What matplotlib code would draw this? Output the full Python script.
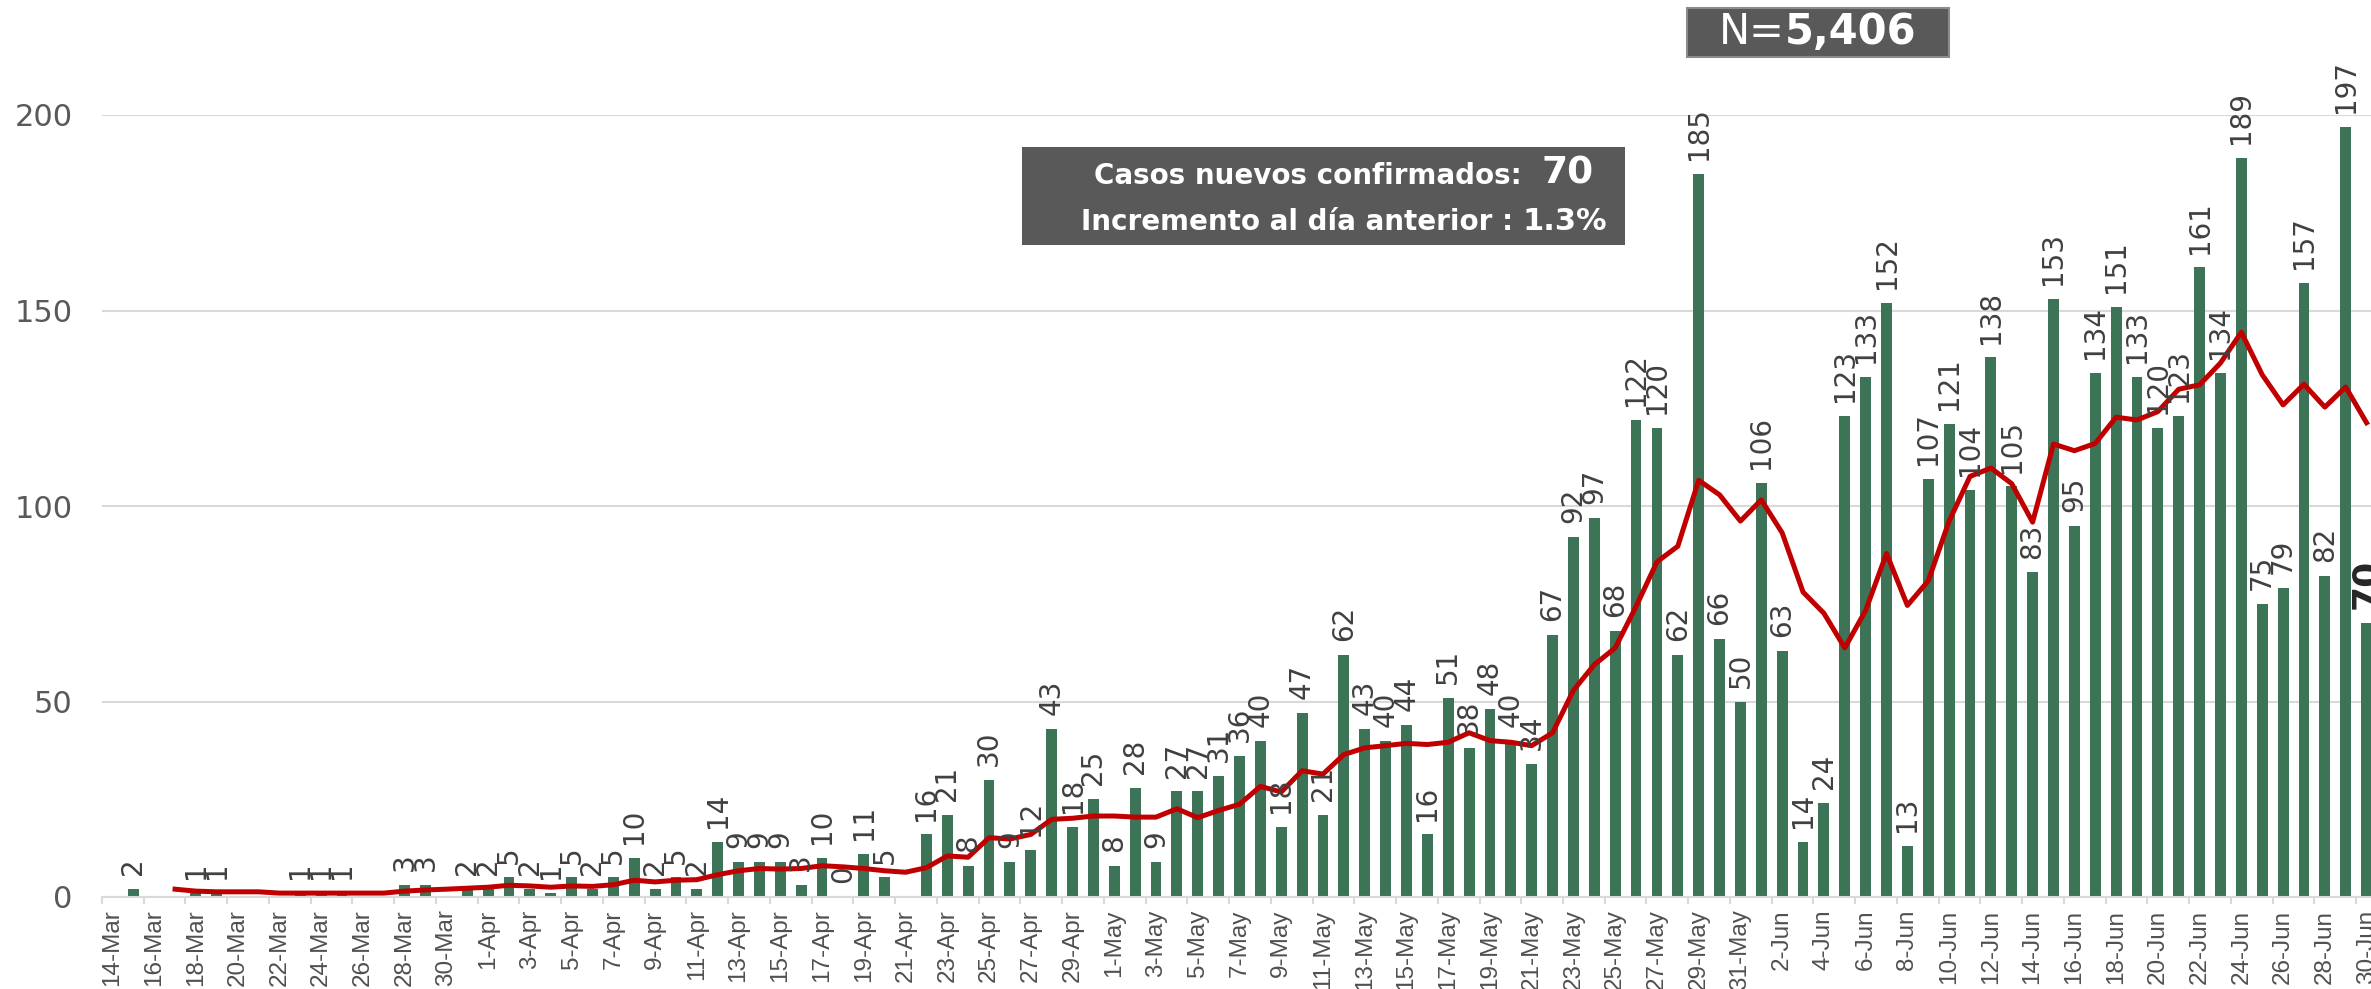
import numpy as np
import pandas as pd
import matplotlib
matplotlib.use("Agg")
import matplotlib.pyplot as plt
from matplotlib.patches import Rectangle
from matplotlib.offsetbox import TextArea, HPacker, VPacker, AnnotationBbox

# one category per day, 14-Mar .. 30-Jun
dates = pd.date_range("2020-03-14", "2020-06-30", freq="D")
day_labels = [f"{d.day}-{d.strftime('%b')}" for d in dates]

# new confirmed cases per day (None = no record that day)
cases = [None, 2, None, None, 1, 1, None, None, None, 1, 1, 1, None, None, 3, 3, None,
         2, 2, 5, 2, 1, 5, 2, 5, 10, 2, 5, 2, 14, 9, 9, 9, 3, 10, 0, 11, 5, None,
         16, 21, 8, 30, 9, 12, 43, 18, 25,
         8, 28, 9, 27, 27, 31, 36, 40, 18, 47, 21, 62, 43, 40, 44, 16, 51, 38, 48, 40,
         34, 67, 92, 97, 68, 122, 120, 62, 185, 66, 50,
         106, 63, 14, 24, 123, 133, 152, 13, 107, 121, 104, 138, 105, 83, 153, 95, 134,
         151, 133, 120, 123, 161, 134, 189, 75, 79, 157, 82, 197, 70]

# 7-day average line as drawn on the chart
avg7 = [None, None, None, 2.0, 1.5, 1.33, 1.33, 1.33, 1.0, 1.0, 1.0, 1.0, 1.0, 1.0,
        1.5, 1.8, 2.0, 2.25, 2.5, 3.0, 2.83, 2.5, 2.83, 2.71, 3.14, 4.29, 3.86, 4.29,
        4.43, 5.71, 6.71, 7.29, 7.14, 7.29, 8.0, 7.71, 7.29, 6.71, 6.33, 7.5, 10.5,
        10.17, 15.17, 14.83, 16.0, 19.86, 20.14, 20.71, 20.71, 20.43, 20.43, 22.57,
        20.29, 22.14, 23.71, 28.29, 26.86, 32.29, 31.43, 36.43, 38.14, 38.71, 39.29,
        39.0, 39.57, 42.0, 40.0, 39.57, 38.71, 42.0, 52.86, 59.43, 63.71, 74.29, 85.71,
        89.71, 106.57, 102.86, 96.14, 101.57, 93.14, 78.0, 72.57, 63.71, 73.29, 87.86,
        74.57, 80.86, 96.14, 107.57, 109.71, 105.71, 95.86, 115.86, 114.14, 116.0,
        122.71, 122.0, 124.14, 129.86, 131.0, 136.57, 144.43, 133.57, 125.86, 131.14,
        125.29, 130.43, 121.29]

total_label = "5,406"
new_today = "70"
pct_change = "1.3%"

W, H = 2371, 989
fig = plt.figure(figsize=(W / 100, H / 100), dpi=100)
ax = fig.add_axes([102 / W, 92 / H, 2275 / W, 782 / H])

x = np.arange(len(dates))
heights = np.array([np.nan if v is None else v for v in cases], dtype=float)
line = np.array([np.nan if v is None else v for v in avg7], dtype=float)

ax.bar(x, np.nan_to_num(heights), width=0.52, color="#3d7357", zorder=2)
ax.plot(x, line, color="#c00000", lw=3.6, zorder=3, solid_joinstyle="round")

for i, v in enumerate(cases):
    if v is None:
        continue
    last = i == len(cases) - 1
    ax.annotate(str(v), (i, v), xytext=(0, 10), textcoords="offset points",
                rotation=90, ha="center", va="bottom",
                fontsize=26 if last else 20,
                fontweight="bold" if last else "normal",
                color="#262626" if last else "#404040", zorder=4)

ax.set_xlim(-0.5, len(dates) - 0.5)
ax.set_ylim(0, 200)
ax.set_yticks([0, 50, 100, 150, 200])
ax.grid(axis="y", color="#d9d9d9", lw=1.5, zorder=0)
ax.set_axisbelow(True)

ax.set_xticks(x[::2])
ax.set_xticklabels(day_labels[::2], rotation=90, fontsize=17.5,
                   family="Liberation Sans", color="#505050")
ax.set_xticks(np.arange(-0.5, len(dates), 2), minor=True)
ax.tick_params(axis="x", which="major", length=0, pad=9)
ax.tick_params(axis="x", which="minor", length=5, width=1.5, color="#d9d9d9")
ax.tick_params(axis="y", length=0, pad=21, labelsize=22, labelcolor="#595959")

for s in ["top", "right", "left"]:
    ax.spines[s].set_visible(False)
ax.spines["bottom"].set_color("#d9d9d9")
ax.spines["bottom"].set_linewidth(1.5)

# summary box
fig.add_artist(Rectangle((1022 / W, 1 - 245 / H), 603 / W, 98 / H,
                         transform=fig.transFigure, facecolor="#595959",
                         edgecolor="none", zorder=5))
row1 = HPacker(children=[
    TextArea("Casos nuevos confirmados:  ", textprops=dict(color="white", fontsize=20, fontweight="bold")),
    TextArea(new_today, textprops=dict(color="white", fontsize=27, fontweight="bold")),
], align="baseline", pad=0, sep=0)
row2 = HPacker(children=[
    TextArea("Incremento al día anterior : ", textprops=dict(color="white", fontsize=20, fontweight="bold")),
    TextArea(pct_change, textprops=dict(color="white", fontsize=22, fontweight="bold")),
], align="baseline", pad=0, sep=0)
box1 = AnnotationBbox(VPacker(children=[row1, row2], align="center", pad=0, sep=11),
                      (1344 / W, 1 - 196 / H), xycoords="figure fraction",
                      box_alignment=(0.5, 0.5), frameon=False, zorder=6)
fig.add_artist(box1)

# total box
fig.add_artist(Rectangle((1687 / W, 1 - 57 / H), 262 / W, 49 / H,
                         transform=fig.transFigure, facecolor="#595959",
                         edgecolor="#8c8c8c", lw=1.5, zorder=5))
rowN = HPacker(children=[
    TextArea("N=", textprops=dict(color="white", fontsize=30)),
    TextArea(total_label, textprops=dict(color="white", fontsize=30, fontweight="bold")),
], align="baseline", pad=0, sep=0)
box2 = AnnotationBbox(rowN, (1818 / W, 1 - 32 / H), xycoords="figure fraction",
                      box_alignment=(0.5, 0.5), frameon=False, zorder=6)
fig.add_artist(box2)

fig.savefig("out.png", dpi=100)
